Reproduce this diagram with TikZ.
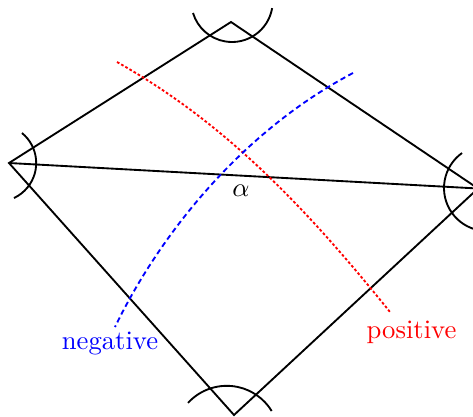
\documentclass[tikz,border=0pt]{standalone}
\begin{document}
\begin{tikzpicture}[x=0.375pt,y=-0.375pt,
  edge/.style={black,line width=0.7pt},
  horo/.style={black,line width=0.7pt},
  poscurve/.style={red,line width=0.7pt,dash pattern=on 1pt off 0.8pt},
  negcurve/.style={blue,line width=0.7pt,dash pattern=on 2pt off 1.3pt}]
\clip (0,0) rectangle (473,416);
% vertices
\coordinate (L) at (9,163);
\coordinate (T) at (231,22);
\coordinate (R) at (478,188.5);
\coordinate (B) at (234,415);
% arc centres
\coordinate (CT) at (232,1.3);
\coordinate (CL) at (-2.5,163);
\coordinate (CR) at (487,188);
\coordinate (CB) at (226.8,438.4);
% curve ends
\coordinate (r1) at (117,62);
\coordinate (r2) at (390,312);
\coordinate (b1) at (353,73);
\coordinate (b2) at (115,327);
% quadrilateral and diagonal
\draw[edge] (L) -- (T) -- (R) -- (B) -- cycle;
\draw[edge] (L) -- (R);
% horocycle arcs
\draw[horo] ([shift={(9.7:40.7)}]CT) arc[start angle=9.7, end angle=163.3, radius=40.7];
\draw[horo] ([shift={(-50.8:38.7)}]CL) arc[start angle=-50.8, end angle=64.8, radius=38.7];
\draw[horo] ([shift={(100:43)}]CR) arc[start angle=100, end angle=234.5, radius=43];
\draw[horo] ([shift={(222.4:52.6)}]CB) arc[start angle=222.4, end angle=328.6, radius=52.6];
% curves
\draw[poscurve] (r1) .. controls (220,120) and (300,200) .. (r2);
\draw[negcurve] (b1) .. controls (235,135) and (155,244) .. (b2);
% labels
\node (alpha) at (241,191) {$\alpha$};
\node[blue] (neg) at (110,343) {negative};
\node[red] (pos) at (411.5,332) {positive};
\end{tikzpicture}
\end{document}
